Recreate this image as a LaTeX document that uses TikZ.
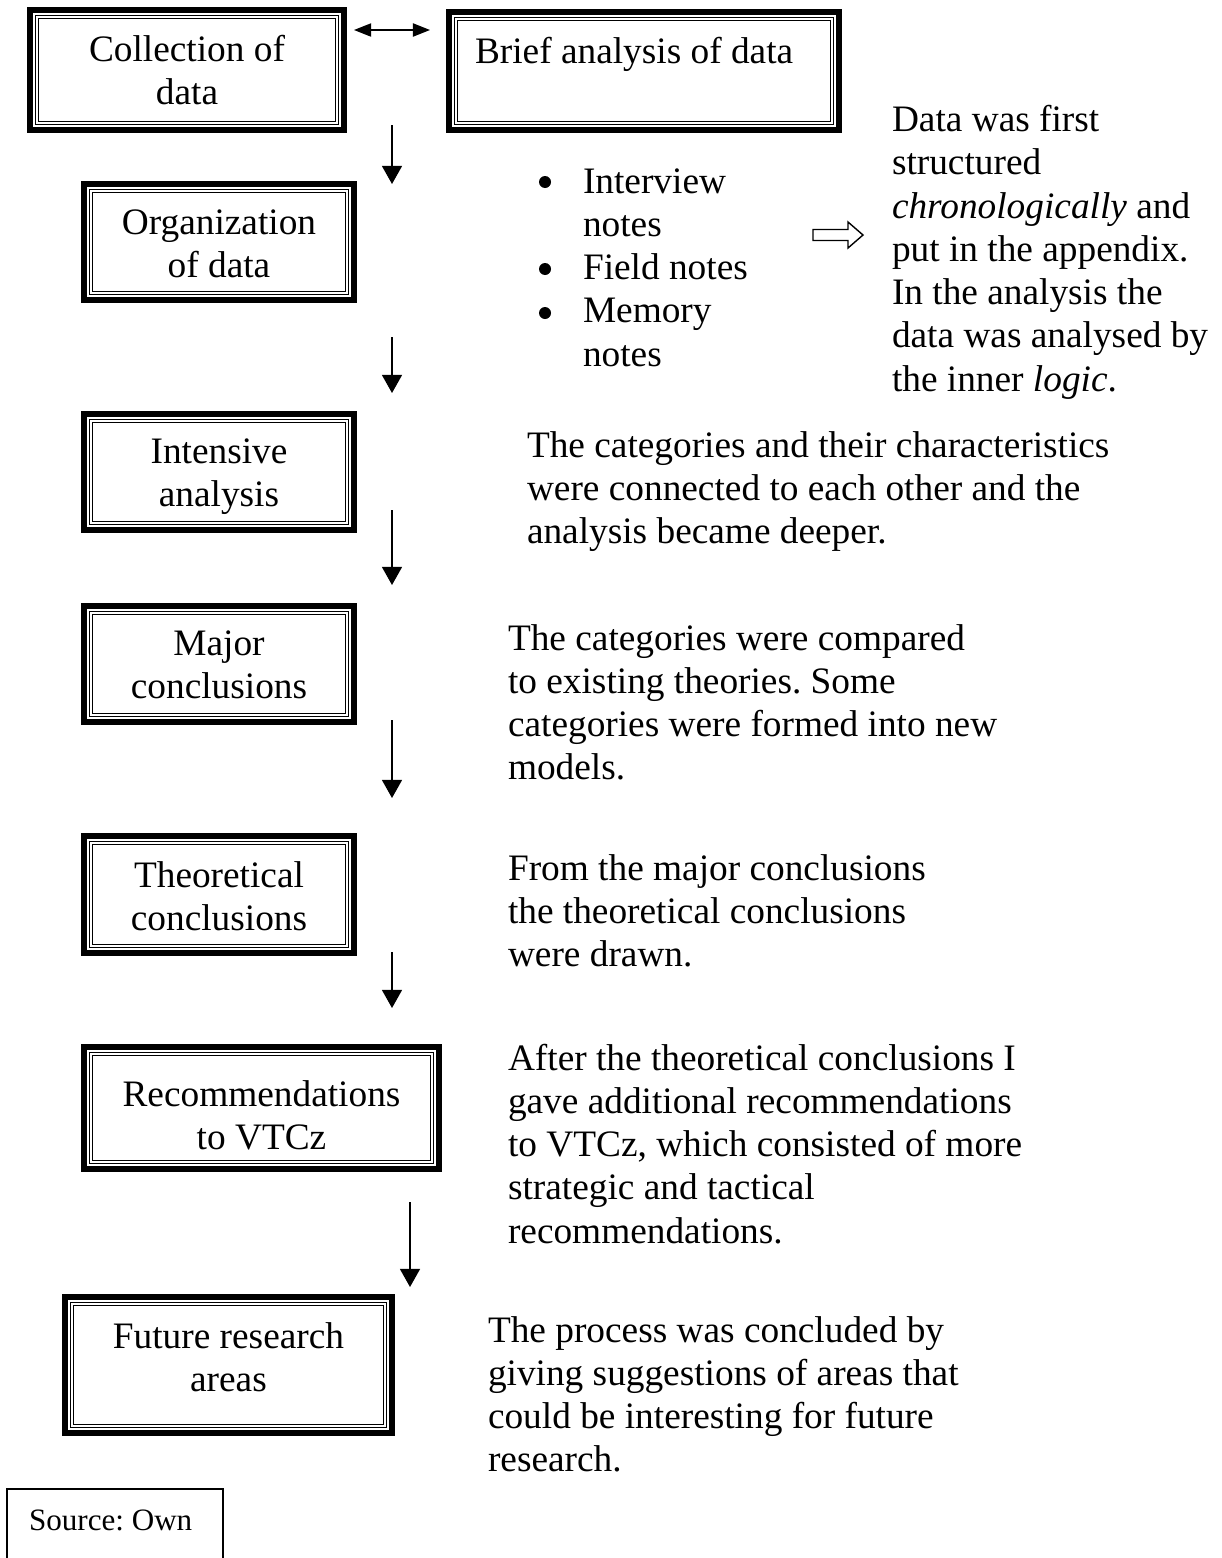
\documentclass[tikz,border=0pt]{standalone}
\usepackage{fontspec}
\setmainfont{Liberation Serif}
\frenchspacing
\usetikzlibrary{arrows.meta,calc}
\tikzset{
  txt/.style={font=\fontsize{12}{13.92}\selectfont\frenchspacing, inner sep=0pt, outer sep=0pt, align=left, anchor=north west},
  ctxt/.style={txt, align=center, anchor=north},
  thickframe/.style={line width=1.93pt},
  thinframe/.style={line width=0.38pt},
  flow/.style={line width=0.5pt, -{Triangle[length=5.8pt,width=6.4pt]}},
  both/.style={line width=0.6pt, {Triangle[length=5.5pt,width=4.2pt]}-{Triangle[length=5.5pt,width=4.2pt]}},
  hollow/.style={line width=0.45pt, line join=miter},
  dot/.style={fill=black},
}
\newcommand\mytribox[5]{%
  \coordinate (#1-nw) at (#2,#3);
  \coordinate (#1-se) at (#4,#5);
  \draw[thickframe] ($(#1-nw)+(3,3)$) rectangle ($(#1-se)+(-3,-3)$);
  \draw[thinframe] ($(#1-nw)+(8.5,8.5)$) rectangle ($(#1-se)+(-8.5,-8.5)$);
  \draw[thinframe] ($(#1-nw)+(11.5,11.5)$) rectangle ($(#1-se)+(-11.5,-11.5)$);
}
\begin{document}
\begin{tikzpicture}[x=0.3215pt, y=-0.3215pt]
\useasboundingbox (0,0) rectangle (1221,1558);

% boxes
\mytribox{b1}{27}{7}{347}{133}
\mytribox{b2}{446}{9}{842}{133}
\mytribox{b3}{81}{181}{357}{303}
\mytribox{b4}{81}{411}{357}{533}
\mytribox{b5}{81}{603}{357}{725}
\mytribox{b6}{81}{833}{357}{956}
\mytribox{b7}{81}{1044}{442}{1172}
\mytribox{b8}{62}{1294}{395}{1436}

\node[ctxt] (t1) at (187,30.7) {\strut Collection of\\data};
\node[txt] (t2) at (475,32.7) {\strut Brief analysis of data};
\node[ctxt] (t3) at (219,203.7) {\strut Organization\\of data};
\node[ctxt] (t4) at (219,432.7) {\strut Intensive\\analysis};
\node[ctxt] (t5) at (219,624.7) {\strut Major\\conclusions};
\node[ctxt] (t6) at (219,856.7) {\strut Theoretical\\conclusions};
\node[ctxt] (t7) at (261.5,1075.7) {\strut Recommendations\\to VTCz};
\node[ctxt] (t8) at (228.5,1317.7) {\strut Future research\\areas};

% source box
\draw[line width=0.5pt] (7,1600) -- (7,1489) -- (223,1489) -- (223,1600);
\node[txt, font=\fontsize{10}{11.5}\selectfont\frenchspacing] (src) at (29,1505) {\strut Source: Own};

% bullets
\fill[dot] (545,182) circle (6);
\fill[dot] (545,269) circle (6);
\fill[dot] (545,313) circle (6);
\node[txt] (list) at (583,162.7) {\strut Interview\\notes\\Field notes\\Memory\\notes};

% side texts
\node[txt] (s1) at (892,101.2) {\strut Data was first\\structured\\\textit{chronologically} and\\put in the appendix.\\In the analysis the\\data was analysed by\\the inner \textit{logic}.};
\node[txt] (s4) at (527,426.7) {\strut The categories and their characteristics\\were connected to each other and the\\analysis became deeper.};
\node[txt] (s5) at (508,619.7) {\strut The categories were compared\\to existing theories. Some\\categories were formed into new\\models.};
\node[txt] (s6) at (508,849.7) {\strut From the major conclusions\\the theoretical conclusions\\were drawn.};
\node[txt] (s7) at (508,1039.7) {\strut After the theoretical conclusions I\\gave additional recommendations\\to VTCz, which consisted of more\\strategic and tactical\\recommendations.};
\node[txt] (s8) at (488,1311.7) {\strut The process was concluded by\\giving suggestions of areas that\\could be interesting for future\\research.};

% arrows
\coordinate (d0a) at (354,30); \coordinate (d0b) at (430,30);
\draw[both] (d0a) -- (d0b);
\coordinate (a1s) at (392,125); \coordinate (a1e) at (392,184);
\coordinate (a2s) at (392,337); \coordinate (a2e) at (392,393);
\coordinate (a3s) at (392,510); \coordinate (a3e) at (392,585);
\coordinate (a4s) at (392,720); \coordinate (a4e) at (392,798);
\coordinate (a5s) at (392,952); \coordinate (a5e) at (392,1008);
\coordinate (a6s) at (410,1202); \coordinate (a6e) at (410,1287);
\draw[flow] (a1s) -- (a1e);
\draw[flow] (a2s) -- (a2e);
\draw[flow] (a3s) -- (a3e);
\draw[flow] (a4s) -- (a4e);
\draw[flow] (a5s) -- (a5e);
\draw[flow] (a6s) -- (a6e);

% hollow arrow
\draw[hollow] (813,229.5) -- (848,229.5) -- (848,222) -- (863,235) -- (848,248) -- (848,240.5) -- (813,240.5) -- cycle;
\end{tikzpicture}
\end{document}
